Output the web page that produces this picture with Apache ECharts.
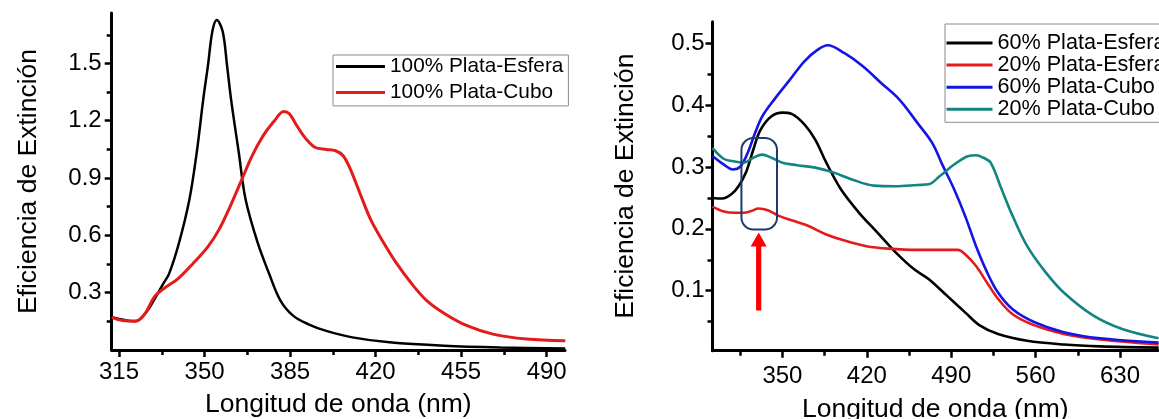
<!DOCTYPE html>
<html><head><meta charset="utf-8">
<script src="https://cdn.jsdelivr.net/npm/echarts@6/dist/echarts.min.js"></script>
<style>html,body{margin:0;padding:0;background:#fff}#c{width:1159px;height:419px}</style>
</head><body><div id="c"></div>
<script>
// ---------- Left panel ----------
const leftEsferaNm = [312, 318, 322, 326, 330, 333, 335.5, 339.5, 343.8, 346.8, 349.5, 351.4, 353.2, 355, 357.4, 359.2, 360.8, 364, 366.8, 371.8, 376.4, 381, 386.2, 392.3, 399.8, 410.5, 425.6, 448, 471, 497.6];
const esfera100 = [0.171, 0.155, 0.152, 0.195, 0.277, 0.345, 0.4, 0.559, 0.788, 1.034, 1.316, 1.49, 1.668, 1.727, 1.668, 1.49, 1.316, 1.034, 0.788, 0.559, 0.4, 0.26, 0.18, 0.136, 0.1, 0.066, 0.04, 0.022, 0.013, 0.008];
const leftCuboNm = [312, 316.5, 321.8, 325.6, 329.4, 333.2, 339.2, 345.3, 351.4, 355.9, 360.5, 365, 369.5, 374, 378.6, 382.4, 384.7, 387.7, 391.5, 395.3, 399.8, 403.6, 406.7, 409.7, 413.5, 418, 422.6, 428.6, 434.7, 440.8, 448.3, 457.4, 468, 481.7, 497.6];
const cubo100 = [0.171, 0.154, 0.15, 0.19, 0.277, 0.32, 0.374, 0.453, 0.541, 0.63, 0.752, 0.885, 1.017, 1.122, 1.2, 1.249, 1.237, 1.175, 1.105, 1.06, 1.05, 1.043, 1.017, 0.946, 0.823, 0.682, 0.576, 0.453, 0.348, 0.26, 0.19, 0.127, 0.083, 0.057, 0.048];
const leftNames = ['100% Plata-Esfera', '100% Plata-Cubo'];
const leftXTicks = [315, 350, 385, 420, 455, 490];
const leftXMinor = [332.5, 367.5, 402.5, 437.5, 472.5];
const leftYTicks = [0.3, 0.6, 0.9, 1.2, 1.5];
const leftYMinor = [0.15, 0.45, 0.75, 1.05, 1.35, 1.65];

// ---------- Right panel ----------
const rightNames = ['60% Plata-Esfera', '20% Plata-Esfera', '60% Plata-Cubo', '20% Plata-Cubo'];
const esfera60Nm = [292, 300, 307.6, 313.6, 319.7, 325.8, 331.8, 340.9, 350, 357.6, 368.2, 377.3, 386.4, 398.5, 413.6, 428.8, 443.9, 459, 471.2, 486.4, 501.5, 513.6, 528.8, 553, 583.3, 613.6, 662];
const esfera60 = [0.25, 0.249, 0.256, 0.269, 0.291, 0.328, 0.36, 0.382, 0.388, 0.386, 0.369, 0.344, 0.307, 0.264, 0.226, 0.194, 0.162, 0.135, 0.119, 0.092, 0.065, 0.044, 0.03, 0.019, 0.013, 0.01, 0.008];
const esfera20Nm = [292, 301.5, 310.6, 318.2, 324.2, 330.3, 337.9, 347, 359.1, 371.2, 386.4, 401.5, 419.7, 437.9, 462.1, 480.3, 495.5, 501.5, 510.6, 519.7, 528.8, 540.9, 559.1, 583.3, 613.6, 662];
const esfera20 = [0.236, 0.228, 0.226, 0.226, 0.229, 0.233, 0.23, 0.221, 0.213, 0.205, 0.191, 0.181, 0.172, 0.168, 0.166, 0.166, 0.166, 0.159, 0.14, 0.113, 0.087, 0.062, 0.044, 0.03, 0.021, 0.013];
const cubo60Nm = [292, 301.5, 309, 315.2, 321.2, 327.3, 333.3, 343.9, 356.1, 368.2, 378.8, 387.5, 401.5, 416.7, 431.8, 447, 462.1, 474.2, 483.3, 492.4, 501.5, 510.6, 519.7, 528.8, 540.9, 559.1, 583.3, 613.6, 662];
const cubo60 = [0.318, 0.304, 0.296, 0.301, 0.323, 0.355, 0.382, 0.411, 0.441, 0.471, 0.489, 0.497, 0.484, 0.463, 0.436, 0.409, 0.371, 0.339, 0.301, 0.264, 0.221, 0.172, 0.13, 0.097, 0.07, 0.049, 0.033, 0.023, 0.016];
const cubo20Nm = [292, 301.5, 310.6, 318.2, 325.8, 333.3, 340.9, 350, 362.1, 377.3, 392.4, 407.6, 425.8, 443.9, 462.1, 471.2, 480.3, 492.4, 504.5, 510.6, 516.7, 522.7, 531.8, 540.9, 553, 568.2, 583.3, 607.6, 631.8, 662];
const cubo20 = [0.331, 0.313, 0.309, 0.307, 0.315, 0.32, 0.315, 0.307, 0.303, 0.299, 0.291, 0.28, 0.27, 0.269, 0.271, 0.272, 0.285, 0.304, 0.318, 0.319, 0.315, 0.307, 0.264, 0.221, 0.172, 0.13, 0.097, 0.06, 0.038, 0.023];
const rightXTicks = [350, 420, 490, 560, 630];
const rightXMinor = [315, 385, 455, 525, 595];
const rightYTicks = [0.1, 0.2, 0.3, 0.4, 0.5];
const rightYMinor = [0.05, 0.15, 0.25, 0.35, 0.45];
// annotation: highlighted box [x1, x2, y1, y2] and arrow [x, yBase, yTip]
const highlightBox = [316, 345.5, 0.199, 0.347];
const arrowMark = [330.3, 0.068, 0.194];

const FONT = 'Liberation Sans';
const pair = (xs, ys) => xs.map((x, i) => [x, ys[i]]);

function majorX(grid, min, max, ticks, nameGap, margin) {
  return {
    type: 'value', gridIndex: grid, position: 'bottom', min, max,
    name: 'Longitud de onda (nm)', nameLocation: 'middle', nameGap, nameMoveOverlap: false,
    nameTextStyle: { fontFamily: FONT, fontSize: 26.5, color: '#000', verticalAlign: 'top' },
    axisLine: { show: true, onZero: false, lineStyle: { color: '#000', width: 3 } },
    axisTick: { show: true, customValues: ticks, length: 7, lineStyle: { color: '#000', width: 2.5 } },
    axisLabel: { show: true, customValues: ticks, margin, fontFamily: FONT, fontSize: 24, color: '#000' },
    splitLine: { show: false }
  };
}
function minorX(grid, min, max, ticks) {
  return {
    type: 'value', gridIndex: grid, position: 'bottom', min, max,
    axisLine: { show: false, onZero: false },
    axisTick: { show: true, customValues: ticks, length: 5, lineStyle: { color: '#000', width: 2.5 } },
    axisLabel: { show: false }, splitLine: { show: false }
  };
}
function majorY(grid, min, max, ticks, nameGap, margin) {
  return {
    type: 'value', gridIndex: grid, position: 'left', min, max,
    name: 'Eficiencia de Extinción', nameLocation: 'middle', nameGap, nameMoveOverlap: false,
    nameTextStyle: { fontFamily: FONT, fontSize: 26.5, color: '#000' },
    axisLine: { show: true, onZero: false, lineStyle: { color: '#000', width: 3 } },
    axisTick: { show: true, customValues: ticks, length: 7, lineStyle: { color: '#000', width: 2.5 } },
    axisLabel: { show: true, customValues: ticks, margin, fontFamily: FONT, fontSize: 24, color: '#000',
      formatter: v => Number(v).toFixed(1) },
    splitLine: { show: false }
  };
}
function minorY(grid, min, max, ticks) {
  return {
    type: 'value', gridIndex: grid, position: 'left', min, max,
    axisLine: { show: false, onZero: false },
    axisTick: { show: true, customValues: ticks, length: 5, lineStyle: { color: '#000', width: 2.5 } },
    axisLabel: { show: false }, splitLine: { show: false }
  };
}
function line(name, data, color, xi, yi, width) {
  return {
    type: 'line', name, data, xAxisIndex: xi, yAxisIndex: yi,
    showSymbol: false, symbol: 'none', smooth: 0.35,
    color, lineStyle: { color, width }, itemStyle: { color }, z: 3
  };
}

const RED = '#e31b1b', BLUE = '#1414e6', TEAL = '#128580', BLACK = '#000000';

const chart = echarts.init(document.getElementById('c'), null, { renderer: 'canvas' });
chart.setOption({
  animation: false,
  backgroundColor: '#ffffff',
  grid: [
    { left: 111.7, top: 13, width: 453.3, height: 337, containLabel: false, outerBoundsMode: 'none' },
    { left: 712.5, top: 21.7, width: 445.5, height: 329, containLabel: false, outerBoundsMode: 'none' }
  ],
  xAxis: [
    majorX(0, 312, 497.5, leftXTicks, 41, 10.5),
    minorX(0, 312, 497.5, leftXMinor),
    majorX(1, 292, 661.5, rightXTicks, 45, 14),
    minorX(1, 292, 661.5, rightXMinor)
  ],
  yAxis: [
    majorY(0, 0, 1.764, leftYTicks, 70, 10),
    minorY(0, 0, 1.764, leftYMinor),
    majorY(1, 0.003, 0.535, rightYTicks, 73, 8),
    minorY(1, 0.003, 0.535, rightYMinor)
  ],
  legend: [
    { data: leftNames, orient: 'vertical', left: 333, top: 55, icon: 'rect', itemWidth: 49, itemHeight: 3,
      itemGap: 4.9, padding: [1, 5, 3, 3], borderColor: '#8a8a8a', borderWidth: 1, backgroundColor: '#fff',
      textStyle: { fontFamily: FONT, fontSize: 20.8, lineHeight: 20.8, color: '#000' }, selectedMode: false },
    { data: rightNames, orient: 'vertical', left: 945, top: 24, icon: 'rect', itemWidth: 46, itemHeight: 3,
      itemGap: 0.1, padding: [8, 6, 2, 1.5], borderColor: '#8a8a8a', borderWidth: 1, backgroundColor: '#fff',
      textStyle: { fontFamily: FONT, fontSize: 21.6, lineHeight: 21, color: '#000' }, selectedMode: false }
  ],
  series: [
    line(leftNames[0], pair(leftEsferaNm, esfera100), BLACK, 0, 0, 2.5),
    line(leftNames[1], pair(leftCuboNm, cubo100), RED, 0, 0, 3),
    line(rightNames[0], pair(esfera60Nm, esfera60), BLACK, 2, 2, 2.6),
    line(rightNames[1], pair(esfera20Nm, esfera20), RED, 2, 2, 2.6),
    line(rightNames[2], pair(cubo60Nm, cubo60), BLUE, 2, 2, 2.6),
    line(rightNames[3], pair(cubo20Nm, cubo20), TEAL, 2, 2, 2.6),
    {
      type: 'custom', xAxisIndex: 2, yAxisIndex: 2, silent: true, z: 5,
      data: [highlightBox], encode: { x: [0, 1], y: [2, 3] },
      renderItem: (params, api) => {
        const p1 = api.coord([api.value(0), api.value(3)]);
        const p2 = api.coord([api.value(1), api.value(2)]);
        return { type: 'rect', shape: { x: p1[0], y: p1[1], width: p2[0] - p1[0], height: p2[1] - p1[1], r: 12 },
          style: { fill: null, stroke: '#1d3a6b', lineWidth: 2 } };
      }
    },
    {
      type: 'custom', xAxisIndex: 2, yAxisIndex: 2, silent: true, z: 5,
      data: [arrowMark], encode: { x: 0, y: [1, 2] },
      renderItem: (params, api) => {
        const b = api.coord([api.value(0), api.value(1)]);
        const t = api.coord([api.value(0), api.value(2)]);
        const x = t[0], hw = 8, sw = 2.6, hh = 14;
        return { type: 'polygon', shape: { points: [
          [x, t[1]], [x + hw, t[1] + hh], [x + sw, t[1] + hh], [x + sw, b[1]],
          [x - sw, b[1]], [x - sw, t[1] + hh], [x - hw, t[1] + hh]] },
          style: { fill: '#ff0000' } };
      }
    }
  ]
});
</script></body></html>
